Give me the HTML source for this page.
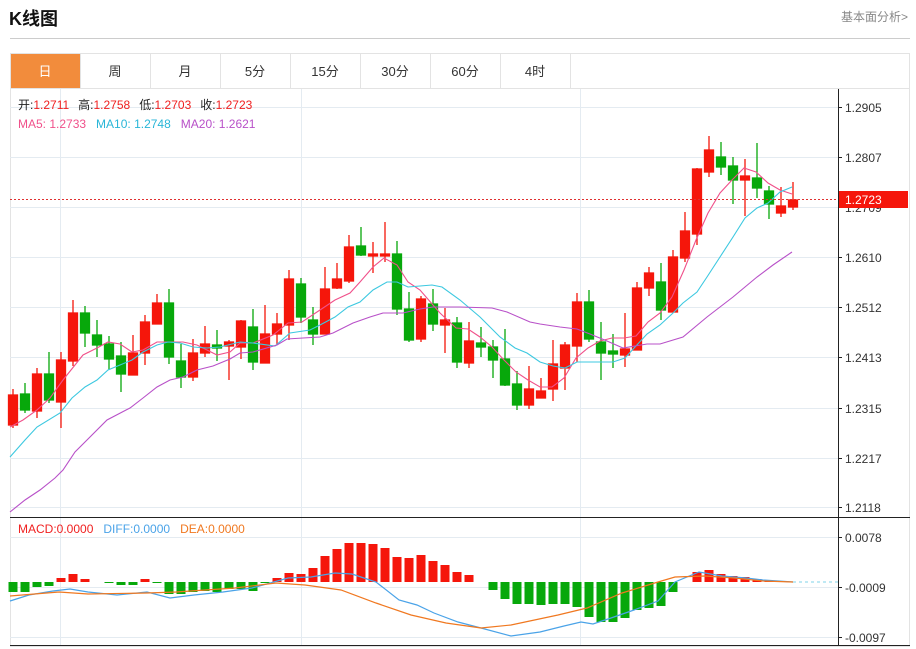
<!DOCTYPE html>
<html><head><meta charset="utf-8"><style>
body{margin:0;width:916px;height:649px;background:#fff;font-family:"Liberation Sans","Noto Sans CJK SC",sans-serif;overflow:hidden;position:relative}
.t{position:absolute;white-space:nowrap}
</style></head><body>
<div class="t" style="left:9px;top:5px;font-size:18px;font-weight:bold;color:#111">K线图</div>
<div class="t" style="right:8px;top:8px;font-size:12px;color:#888">基本面分析&gt;</div>
<svg width="916" height="649" style="position:absolute;left:0;top:0" font-family="Liberation Sans, Noto Sans CJK SC, sans-serif">
<line x1="10" y1="38.5" x2="910" y2="38.5" stroke="#ccc"/>
<rect x="10.5" y="53.5" width="899" height="593" fill="none" stroke="#e3e3e3"/>
<line x1="10" y1="88.5" x2="910" y2="88.5" stroke="#e3e3e3"/>
<rect x="11" y="54" width="69" height="34" fill="#f28c3c"/>
<g stroke="#e3e3e3"><line x1="80.5" y1="54" x2="80.5" y2="88"/><line x1="150.5" y1="54" x2="150.5" y2="88"/><line x1="220.5" y1="54" x2="220.5" y2="88"/><line x1="290.5" y1="54" x2="290.5" y2="88"/><line x1="360.5" y1="54" x2="360.5" y2="88"/><line x1="430.5" y1="54" x2="430.5" y2="88"/><line x1="500.5" y1="54" x2="500.5" y2="88"/><line x1="570.5" y1="54" x2="570.5" y2="88"/></g>
<g font-size="13" text-anchor="middle" fill="#333"><text x="45" y="76" fill="#fff">日</text><text x="115" y="76">周</text><text x="185" y="76">月</text><text x="255" y="76">5分</text><text x="325" y="76">15分</text><text x="395" y="76">30分</text><text x="465" y="76">60分</text><text x="535" y="76">4时</text></g>
<!-- grid -->
<g stroke="#e4ebf1"><line x1="10" y1="107.5" x2="838" y2="107.5"/><line x1="10" y1="157.5" x2="838" y2="157.5"/><line x1="10" y1="207.5" x2="838" y2="207.5"/><line x1="10" y1="257.5" x2="838" y2="257.5"/><line x1="10" y1="307.5" x2="838" y2="307.5"/><line x1="10" y1="357.5" x2="838" y2="357.5"/><line x1="10" y1="408.5" x2="838" y2="408.5"/><line x1="10" y1="458.5" x2="838" y2="458.5"/><line x1="10" y1="507.5" x2="838" y2="507.5"/>
<line x1="60.5" y1="89" x2="60.5" y2="646"/><line x1="301.5" y1="89" x2="301.5" y2="646"/><line x1="580.5" y1="89" x2="580.5" y2="646"/>
<line x1="10" y1="537.5" x2="838" y2="537.5"/><line x1="10" y1="587.5" x2="838" y2="587.5"/><line x1="10" y1="637.5" x2="838" y2="637.5"/></g>
<line x1="10" y1="517.5" x2="910" y2="517.5" stroke="#222"/>
<line x1="838.5" y1="89" x2="838.5" y2="646" stroke="#222"/>
<line x1="10" y1="645.5" x2="910" y2="645.5" stroke="#222"/>
<g stroke="#222"><line x1="838" y1="107.5" x2="842" y2="107.5"/><line x1="838" y1="157.5" x2="842" y2="157.5"/><line x1="838" y1="207.5" x2="842" y2="207.5"/><line x1="838" y1="257.5" x2="842" y2="257.5"/><line x1="838" y1="307.5" x2="842" y2="307.5"/><line x1="838" y1="357.5" x2="842" y2="357.5"/><line x1="838" y1="408.5" x2="842" y2="408.5"/><line x1="838" y1="458.5" x2="842" y2="458.5"/><line x1="838" y1="507.5" x2="842" y2="507.5"/><line x1="838" y1="537.5" x2="842" y2="537.5"/><line x1="838" y1="587.5" x2="842" y2="587.5"/><line x1="838" y1="637.5" x2="842" y2="637.5"/></g>
<g font-size="12" fill="#333"><text x="845" y="112">1.2905</text><text x="845" y="162">1.2807</text><text x="845" y="212">1.2709</text><text x="845" y="262">1.2610</text><text x="845" y="312">1.2512</text><text x="845" y="362">1.2413</text><text x="845" y="413">1.2315</text><text x="845" y="463">1.2217</text><text x="845" y="512">1.2118</text><text x="845" y="542">0.0078</text><text x="845" y="592">-0.0009</text><text x="845" y="642">-0.0097</text></g>
<!-- candles -->
<g stroke-width="1.3">
<g stroke="#f5160b" fill="#f5160b">
<line x1="13" y1="389" x2="13" y2="428"/><rect x="8.5" y="395" width="9" height="30"/>
<line x1="37" y1="368" x2="37" y2="418"/><rect x="32.5" y="374" width="9" height="37"/>
<line x1="61" y1="352" x2="61" y2="428"/><rect x="56.5" y="360" width="9" height="42"/>
<line x1="73" y1="300" x2="73" y2="366"/><rect x="68.5" y="313" width="9" height="48"/>
<line x1="133" y1="335" x2="133" y2="375"/><rect x="128.5" y="353" width="9" height="22"/>
<line x1="145" y1="315" x2="145" y2="365"/><rect x="140.5" y="322" width="9" height="31"/>
<line x1="157" y1="294" x2="157" y2="324"/><rect x="152.5" y="303" width="9" height="21"/>
<line x1="193" y1="339" x2="193" y2="381"/><rect x="188.5" y="353" width="9" height="24"/>
<line x1="205" y1="326" x2="205" y2="357"/><rect x="200.5" y="344" width="9" height="9"/>
<line x1="229" y1="340" x2="229" y2="380"/><rect x="224.5" y="342" width="9" height="4"/>
<line x1="241" y1="320" x2="241" y2="359"/><rect x="236.5" y="321" width="9" height="26"/>
<line x1="265" y1="305" x2="265" y2="363"/><rect x="260.5" y="334" width="9" height="29"/>
<line x1="277" y1="313" x2="277" y2="345"/><rect x="272.5" y="324" width="9" height="10"/>
<line x1="289" y1="270" x2="289" y2="340"/><rect x="284.5" y="279" width="9" height="46"/>
<line x1="325" y1="267" x2="325" y2="334"/><rect x="320.5" y="289" width="9" height="45"/>
<line x1="337" y1="263" x2="337" y2="289"/><rect x="332.5" y="279" width="9" height="9"/>
<line x1="349" y1="235" x2="349" y2="283"/><rect x="344.5" y="247" width="9" height="34"/>
<line x1="373" y1="242" x2="373" y2="273"/><rect x="368.5" y="254" width="9" height="2"/>
<line x1="385" y1="222" x2="385" y2="262"/><rect x="380.5" y="254" width="9" height="2"/>
<line x1="421" y1="296" x2="421" y2="342"/><rect x="416.5" y="299" width="9" height="40"/>
<line x1="445" y1="308" x2="445" y2="353"/><rect x="440.5" y="320" width="9" height="5"/>
<line x1="469" y1="322" x2="469" y2="368"/><rect x="464.5" y="341" width="9" height="22"/>
<line x1="529" y1="366" x2="529" y2="409"/><rect x="524.5" y="389" width="9" height="16"/>
<line x1="541" y1="378" x2="541" y2="398"/><rect x="536.5" y="391" width="9" height="7"/>
<line x1="553" y1="340" x2="553" y2="401"/><rect x="548.5" y="364" width="9" height="25"/>
<line x1="565" y1="342" x2="565" y2="390"/><rect x="560.5" y="345" width="9" height="23"/>
<line x1="577" y1="293" x2="577" y2="362"/><rect x="572.5" y="302" width="9" height="44"/>
<line x1="625" y1="313" x2="625" y2="367"/><rect x="620.5" y="349" width="9" height="6"/>
<line x1="637" y1="282" x2="637" y2="350"/><rect x="632.5" y="288" width="9" height="62"/>
<line x1="649" y1="267" x2="649" y2="296"/><rect x="644.5" y="273" width="9" height="15"/>
<line x1="673" y1="250" x2="673" y2="312"/><rect x="668.5" y="257" width="9" height="55"/>
<line x1="685" y1="212" x2="685" y2="262"/><rect x="680.5" y="231" width="9" height="27"/>
<line x1="697" y1="168" x2="697" y2="245"/><rect x="692.5" y="169" width="9" height="65"/>
<line x1="709" y1="136" x2="709" y2="177"/><rect x="704.5" y="150" width="9" height="22"/>
<line x1="745" y1="159" x2="745" y2="216"/><rect x="740.5" y="176" width="9" height="4"/>
<line x1="781" y1="187" x2="781" y2="217"/><rect x="776.5" y="206" width="9" height="7"/>
<line x1="793" y1="182" x2="793" y2="210"/><rect x="788.5" y="200" width="9" height="7"/>
</g>
<g stroke="#07a80b" fill="#07a80b">
<line x1="25" y1="383" x2="25" y2="413"/><rect x="20.5" y="394" width="9" height="16"/>
<line x1="49" y1="352" x2="49" y2="403"/><rect x="44.5" y="374" width="9" height="26"/>
<line x1="85" y1="306" x2="85" y2="347"/><rect x="80.5" y="313" width="9" height="20"/>
<line x1="97" y1="320" x2="97" y2="357"/><rect x="92.5" y="335" width="9" height="10"/>
<line x1="109" y1="336" x2="109" y2="370"/><rect x="104.5" y="344" width="9" height="15"/>
<line x1="121" y1="342" x2="121" y2="392"/><rect x="116.5" y="356" width="9" height="18"/>
<line x1="169" y1="289" x2="169" y2="364"/><rect x="164.5" y="303" width="9" height="54"/>
<line x1="181" y1="344" x2="181" y2="388"/><rect x="176.5" y="361" width="9" height="16"/>
<line x1="217" y1="330" x2="217" y2="361"/><rect x="212.5" y="345" width="9" height="3"/>
<line x1="253" y1="309" x2="253" y2="370"/><rect x="248.5" y="327" width="9" height="35"/>
<line x1="301" y1="278" x2="301" y2="323"/><rect x="296.5" y="284" width="9" height="33"/>
<line x1="313" y1="307" x2="313" y2="345"/><rect x="308.5" y="320" width="9" height="14"/>
<line x1="361" y1="227" x2="361" y2="256"/><rect x="356.5" y="246" width="9" height="9"/>
<line x1="397" y1="241" x2="397" y2="315"/><rect x="392.5" y="254" width="9" height="55"/>
<line x1="409" y1="292" x2="409" y2="342"/><rect x="404.5" y="309" width="9" height="31"/>
<line x1="433" y1="289" x2="433" y2="331"/><rect x="428.5" y="304" width="9" height="20"/>
<line x1="457" y1="317" x2="457" y2="368"/><rect x="452.5" y="323" width="9" height="39"/>
<line x1="481" y1="327" x2="481" y2="357"/><rect x="476.5" y="343" width="9" height="4"/>
<line x1="493" y1="340" x2="493" y2="378"/><rect x="488.5" y="347" width="9" height="13"/>
<line x1="505" y1="329" x2="505" y2="386"/><rect x="500.5" y="359" width="9" height="26"/>
<line x1="517" y1="371" x2="517" y2="410"/><rect x="512.5" y="384" width="9" height="21"/>
<line x1="589" y1="290" x2="589" y2="342"/><rect x="584.5" y="302" width="9" height="37"/>
<line x1="601" y1="322" x2="601" y2="380"/><rect x="596.5" y="342" width="9" height="11"/>
<line x1="613" y1="334" x2="613" y2="368"/><rect x="608.5" y="351" width="9" height="3"/>
<line x1="661" y1="263" x2="661" y2="320"/><rect x="656.5" y="282" width="9" height="28"/>
<line x1="721" y1="142" x2="721" y2="175"/><rect x="716.5" y="157" width="9" height="10"/>
<line x1="733" y1="157" x2="733" y2="204"/><rect x="728.5" y="166" width="9" height="14"/>
<line x1="757" y1="143" x2="757" y2="198"/><rect x="752.5" y="178" width="9" height="10"/>
<line x1="769" y1="186" x2="769" y2="219"/><rect x="764.5" y="191" width="9" height="13"/>
</g></g>
<!-- MAs -->
<g fill="none" stroke-width="1.1">
<polyline stroke="#f0508a" points="10,427 23,420 37,410 50,398 63,380 83,355 97,348 108,342 120,344 132,352 143,350 157,342 170,342 183,342 197,345 217,355 230,352 240,343 253,343 273,335 288,323 302,322 320,310 335,300 350,293 360,282 373,267 384,258 397,265 408,282 420,290 433,305 440,313 456,328 468,329 480,337 492,347 504,360 516,372 528,380 540,387 552,387 564,378 576,358 588,348 600,341 612,338 624,338 636,336 648,322 660,313 672,297 684,270 696,240 708,213 720,193 732,180 744,168 756,172 768,183 780,190 792,194"/>
<polyline stroke="#3cc8e0" points="10,457 25,440 37,427 60,413 72,398 85,387 97,380 108,370 120,365 132,360 143,352 157,345 168,342 180,343 193,347 207,348 220,347 240,342 253,343 275,346 290,333 310,330 320,325 335,317 348,307 360,302 373,290 387,282 397,282 408,287 420,286 432,285 442,287 460,300 480,317 500,337 515,348 527,353 540,362 553,366 565,368 577,362 600,362 613,362 625,358 635,347 647,334 660,325 673,313 683,303 697,292 707,277 720,257 733,237 745,218 757,208 768,203 780,192 792,187"/>
<polyline stroke="#b850c8" points="10,512 25,500 40,490 55,478 63,470 75,452 87,440 107,420 130,408 143,398 157,387 170,380 183,377 197,370 213,366 230,359 240,353 253,352 277,345 287,339 303,338 320,337 333,333 353,323 370,317 383,313 403,313 420,309 433,307 460,307 492,308 507,312 530,322 540,324 560,327 577,329 590,334 607,341 623,348 647,344 660,344 683,337 707,317 733,297 757,277 773,265 792,252"/>
</g>
<line x1="10" y1="199.5" x2="838" y2="199.5" stroke="#e03030" stroke-dasharray="2,2"/>
<rect x="839" y="191" width="69" height="17" fill="#f5160b"/>
<text x="845" y="204" font-size="12" fill="#fff">1.2723</text>
<!-- legend -->
<g font-size="12"><text x="18" y="109"><tspan fill="#222">开:</tspan><tspan fill="#f02020">1.2711</tspan><tspan fill="#222" dx="9">高:</tspan><tspan fill="#f02020">1.2758</tspan><tspan fill="#222" dx="9">低:</tspan><tspan fill="#f02020">1.2703</tspan><tspan fill="#222" dx="9">收:</tspan><tspan fill="#f02020">1.2723</tspan></text>
<text x="18" y="128"><tspan fill="#f0508a">MA5: 1.2733</tspan><tspan fill="#29b6d8" dx="10">MA10: 1.2748</tspan><tspan fill="#b850c8" dx="10">MA20: 1.2621</tspan></text>
<text x="18" y="533"><tspan fill="#f02020">MACD:0.0000</tspan><tspan fill="#4aa3e8" dx="10">DIFF:0.0000</tspan><tspan fill="#f07820" dx="10">DEA:0.0000</tspan></text></g>
<!-- MACD bars -->
<g fill="#07a80b">
<rect x="8.5" y="582" width="9" height="10"/><rect x="20.5" y="582" width="9" height="10"/><rect x="32.5" y="582" width="9" height="5"/><rect x="44.5" y="582" width="9" height="4"/>
<rect x="104.5" y="582" width="9" height="1"/><rect x="116.5" y="582" width="9" height="3"/><rect x="128.5" y="582" width="9" height="3"/><rect x="152.5" y="582" width="9" height="1"/>
<rect x="164.5" y="582" width="9" height="12"/><rect x="176.5" y="582" width="9" height="12"/><rect x="188.5" y="582" width="9" height="10"/><rect x="200.5" y="582" width="9" height="9"/><rect x="212.5" y="582" width="9" height="10"/><rect x="224.5" y="582" width="9" height="7"/><rect x="236.5" y="582" width="9" height="7"/><rect x="248.5" y="582" width="9" height="9"/><rect x="260.5" y="582" width="9" height="1"/>
<rect x="488.5" y="582" width="9" height="8"/><rect x="500.5" y="582" width="9" height="17"/><rect x="512.5" y="582" width="9" height="22"/><rect x="524.5" y="582" width="9" height="22"/><rect x="536.5" y="582" width="9" height="23"/><rect x="548.5" y="582" width="9" height="22"/><rect x="560.5" y="582" width="9" height="22"/><rect x="572.5" y="582" width="9" height="25"/><rect x="584.5" y="582" width="9" height="35"/><rect x="596.5" y="582" width="9" height="40"/><rect x="608.5" y="582" width="9" height="40"/><rect x="620.5" y="582" width="9" height="36"/><rect x="632.5" y="582" width="9" height="28"/><rect x="644.5" y="582" width="9" height="26"/><rect x="656.5" y="582" width="9" height="24"/><rect x="668.5" y="582" width="9" height="10"/>
</g>
<g fill="#f5160b">
<rect x="56.5" y="578" width="9" height="4"/><rect x="68.5" y="574" width="9" height="8"/><rect x="80.5" y="579" width="9" height="3"/><rect x="140.5" y="579" width="9" height="3"/>
<rect x="272.5" y="578" width="9" height="4"/><rect x="284.5" y="573" width="9" height="9"/><rect x="296.5" y="574" width="9" height="8"/><rect x="308.5" y="568" width="9" height="14"/><rect x="320.5" y="556" width="9" height="26"/><rect x="332.5" y="549" width="9" height="33"/><rect x="344.5" y="543" width="9" height="39"/><rect x="356.5" y="543" width="9" height="39"/><rect x="368.5" y="544" width="9" height="38"/><rect x="380.5" y="548" width="9" height="34"/><rect x="392.5" y="557" width="9" height="25"/><rect x="404.5" y="558" width="9" height="24"/><rect x="416.5" y="555" width="9" height="27"/><rect x="428.5" y="561" width="9" height="21"/><rect x="440.5" y="565" width="9" height="17"/><rect x="452.5" y="572" width="9" height="10"/><rect x="464.5" y="575" width="9" height="7"/>
<rect x="692.5" y="572" width="9" height="10"/><rect x="704.5" y="570" width="9" height="12"/><rect x="716.5" y="574" width="9" height="8"/><rect x="728.5" y="576" width="9" height="6"/><rect x="740.5" y="577" width="9" height="5"/><rect x="752.5" y="579" width="9" height="3"/><rect x="764.5" y="581" width="9" height="1"/>
</g>
<line x1="793" y1="582" x2="838" y2="582" stroke="#7fd3e8" stroke-dasharray="3,3"/>
<g fill="none" stroke-width="1.2">
<polyline stroke="#4aa3e8" points="10,601 29,595 53,591 70,589 88,592 117,595 147,592 170,598 194,595 223,592 252,588 288,578 311,577 335,573 352,574 376,582 399,600 417,605 434,613 458,622 481,628 511,636 540,632 564,626 581,622 593,624 611,618 634,610 658,601 675,582 699,572 722,576 746,578 763,580 793,582"/>
<polyline stroke="#f07820" points="10,596 59,592 88,594 147,593 176,592 235,588 276,583 305,585 341,590 376,603 411,615 446,623 481,628 511,625 558,615 587,608 622,593 658,582 675,577 705,576 734,578 763,581 793,582"/>
</g>
</svg>
</body></html>
